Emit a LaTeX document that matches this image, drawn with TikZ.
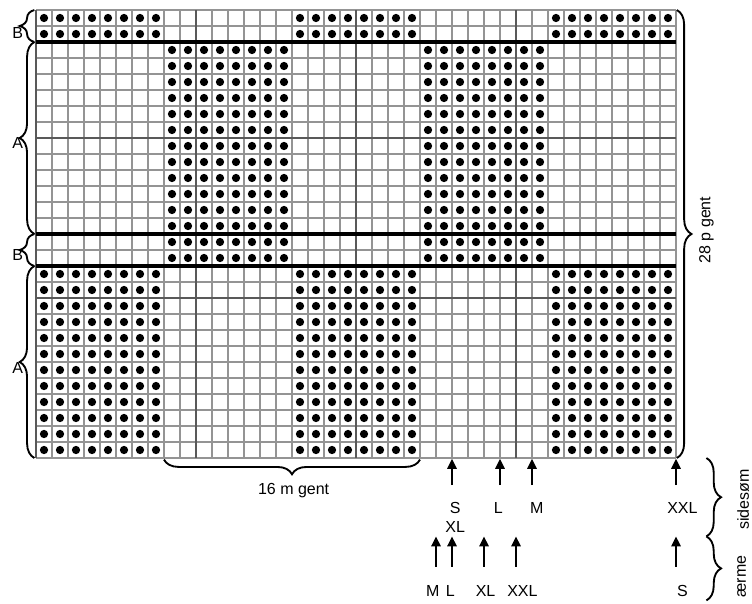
\documentclass[tikz,border=0pt]{standalone}
\usepackage{fontspec}
\setmainfont{Liberation Sans}
\usepackage{tikz}
\usetikzlibrary{arrows.meta,decorations.pathreplacing}
\definecolor{gridgray}{gray}{0.58}
\definecolor{majorgray}{gray}{0.35}

\begin{document}
\begin{tikzpicture}[x=12pt,y=-12pt,
  every node/.style={font=\fontsize{12}{14}\selectfont,inner sep=1pt},
  gridln/.style={draw=gridgray,line width=0.8pt},
  majorln/.style={draw=majorgray,line width=1.4pt},
  bandln/.style={draw=black,line width=3pt},
  brc/.style={decorate,decoration={brace,amplitude=11pt},line width=1.4pt},
  upar/.style={line width=1.5pt,-{Triangle[length=7.5pt,width=7pt]}},
  lbl/.style={inner sep=0pt} ]
  \useasboundingbox (-2.25,-0.625) rectangle (44.75,37.0625);

  % chart grid, 40 m x 28 p
  \foreach \i in {0,...,40} \draw[gridln] (\i,0) -- (\i,28);
  \foreach \j in {0,...,28} \draw[gridln] (0,\j) -- (40,\j);
  \foreach \i in {0,10,20,30} \draw[majorln] (\i,0) -- (\i,28);
  \foreach \j in {8,18} \draw[majorln] (0,\j) -- (40,\j);

  % dots
  \foreach \r in {0,1,16,17,...,27}
    \foreach \c in {0,...,7,16,17,...,23,32,33,...,39}
      \fill (\c+0.5,\r+0.5) circle (3.1pt);
  \foreach \r in {2,...,15}
    \foreach \c in {8,...,15,24,25,...,31}
      \fill (\c+0.5,\r+0.5) circle (3.1pt);

  % A/B borders
  \foreach \j in {2,14,16} \draw[bandln] (0,\j) -- (40,\j);

  % braces
  \draw[brc] (-0.1,2) -- (-0.1,0);
  \draw[brc] (-0.1,14) -- (-0.1,2);
  \draw[brc] (-0.1,16) -- (-0.1,14);
  \draw[brc] (-0.1,28) -- (-0.1,16);
  \draw[brc] (40.05,0) -- (40.05,28);
  \draw[brc] (24,28.1) -- (8,28.1);
  \draw[brc] (41.9,28) -- (41.9,32.9);
  \draw[brc] (41.9,32.9) -- (41.9,36.9);

  \node[lbl] (b1) at (-1.15,1.45) {B};
  \node[lbl] (a1) at (-1.15,8.3) {A};
  \node[lbl] (b2) at (-1.15,15.3) {B};
  \node[lbl] (a2) at (-1.15,22.4) {A};
  \node[lbl,rotate=90] (pgent) at (41.9,13.75) {28 p gent};
  \node[lbl] (mgent) at (16.1,30.05) {16 m gent};
  \node[lbl,rotate=90] (side) at (44.2,30.6) {sidesøm};
  \node[lbl,rotate=90] (aerme) at (44.1,35.4) {ærme};

  % side seam arrows
  \foreach \x/\n in {26/s,29/l,31/m,40/xxl} {
    \coordinate (st\n) at (\x,29.7);
    \coordinate (sh\n) at (\x,28.05);
    \draw[upar] (st\n) -- (sh\n);
  }
  \node[lbl] (ss) at (26.2,31.1) {S};
  \node[lbl] (sxl) at (26.2,32.3) {XL};
  \node[lbl] (sl) at (28.9,31.1) {L};
  \node[lbl] (sm) at (31.3,31.1) {M};
  \node[lbl] (sxxl) at (40.4,31.1) {XXL};

  % sleeve arrows
  \foreach \x/\n in {25/m,26/l,28/xl,30/xxl,40/s} {
    \coordinate (et\n) at (\x,34.8);
    \coordinate (eh\n) at (\x,32.9);
    \draw[upar] (et\n) -- (eh\n);
  }
  \node[lbl] (em) at (24.8,36.3) {M};
  \node[lbl] (el) at (25.9,36.3) {L};
  \node[lbl] (exl) at (28.1,36.3) {XL};
  \node[lbl] (exxl) at (30.4,36.3) {XXL};
  \node[lbl] (es) at (40.4,36.3) {S};
\end{tikzpicture}
\end{document}
